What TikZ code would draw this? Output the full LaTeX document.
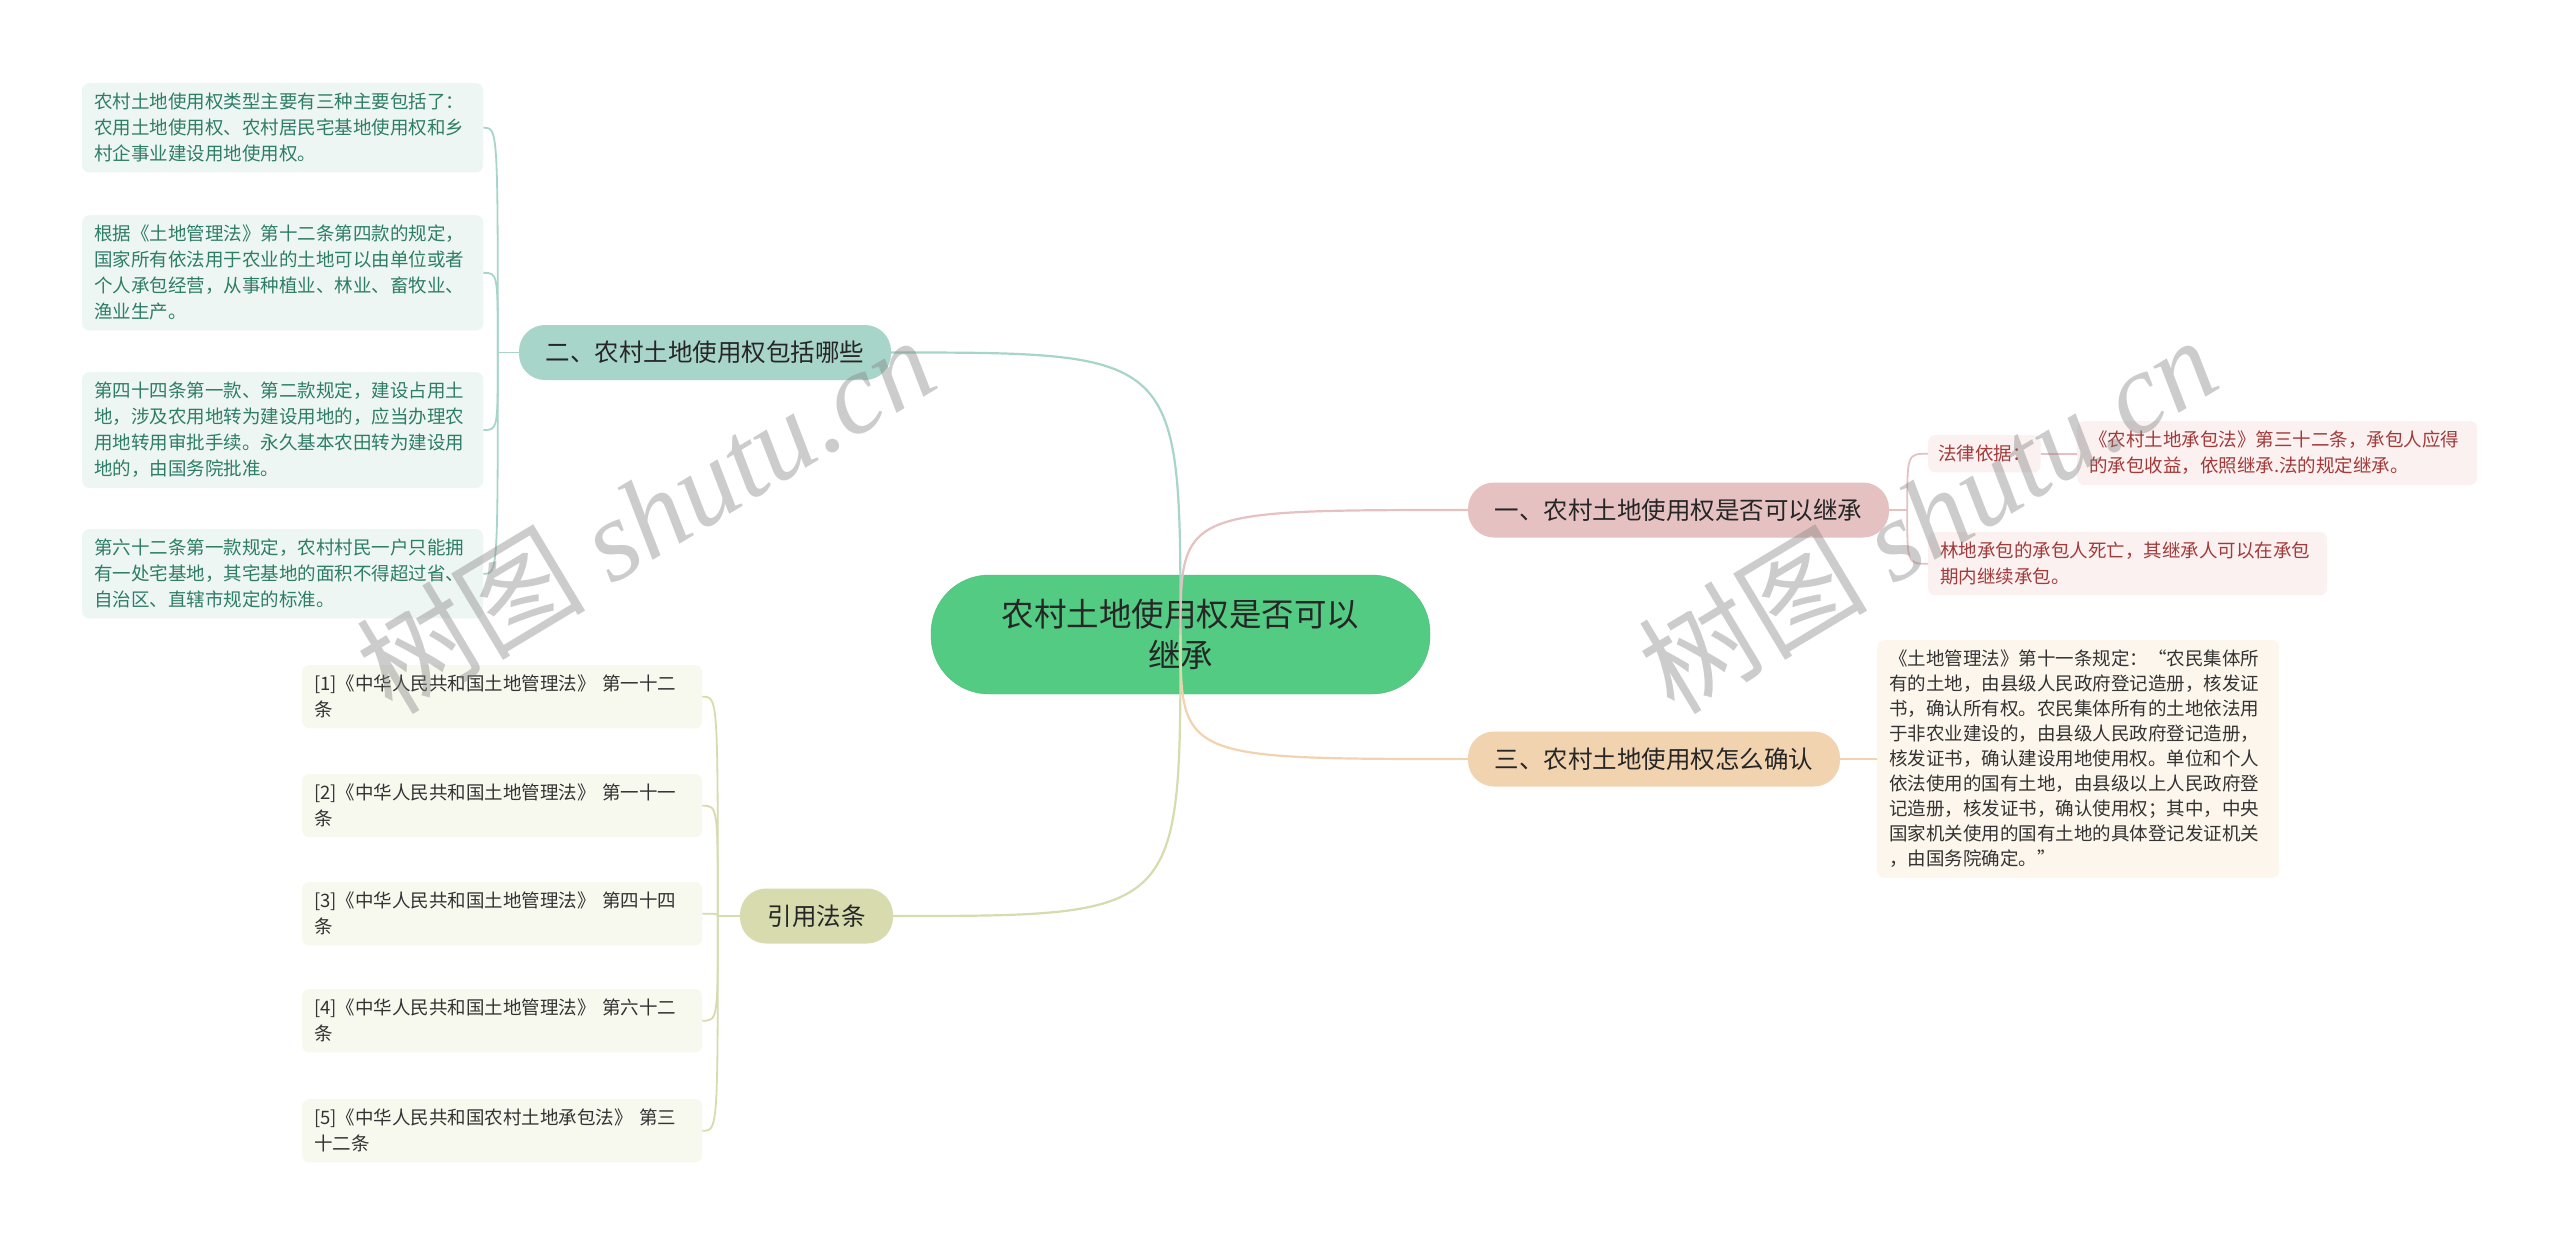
\documentclass[tikz,border=0pt]{standalone}
\usepackage{fontspec}
\setmainfont{Noto Sans CJK SC}
\newfontfamily\wmlatin{Liberation Serif}
\usetikzlibrary{calc}
\definecolor{rootfill}{HTML}{53CB82}
\definecolor{rootline}{HTML}{4DBE79}
\definecolor{tealfill}{HTML}{A8D5C9}
\definecolor{pinkfill}{HTML}{E6C1C1}
\definecolor{tanfill}{HTML}{F2D3AF}
\definecolor{olivefill}{HTML}{D7DBAD}
\definecolor{tealleaf}{HTML}{EEF6F3}
\definecolor{pinkleaf}{HTML}{FBF1F1}
\definecolor{tanleaf}{HTML}{FDF6ED}
\definecolor{oliveleaf}{HTML}{F7F8EE}
\definecolor{tealtext}{HTML}{2E7D66}
\definecolor{pinktext}{HTML}{A33A3A}
\tikzset{
  root/.style={draw=rootline,fill=rootfill,rectangle,rounded corners=58pt,minimum width=499pt,minimum height=119pt,align=center,text=black!85,font=\fontsize{32.5}{41}\selectfont},
  topic/.style={rectangle,rounded corners=26pt,minimum height=55pt,inner xsep=0pt,text=black!85,font=\fontsize{24.5}{30}\selectfont},
  leaf/.style={rectangle,rounded corners=7pt,anchor=north west,align=left,inner xsep=12pt,inner ysep=10pt,font=\fontsize{18.5}{26}\selectfont},
  branch/.style={line width=2.2pt},
  twig/.style={line width=1.8pt},
  wmark/.style={rotate=31,text=gray,opacity=0.4,font=\fontsize{115}{115}\selectfont}
}
\begin{document}
\begin{tikzpicture}[x=1pt,y=-1pt]
  \fill[white] (0,0) rectangle (2560,1251);
  \useasboundingbox (0,0) rectangle (2560,1251);

  \node[root] (root) at (1180.5,634.5) {农村土地使用权是否可以\\继承};

  \node[topic,fill=tealfill,minimum width=372pt] (t2) at (705,352.5) {二、农村土地使用权包括哪些};
  \node[topic,fill=pinkfill,minimum width=421pt] (t1) at (1678.5,510) {一、农村土地使用权是否可以继承};
  \node[topic,fill=tanfill,minimum width=372pt] (t3) at (1654,759) {三、农村土地使用权怎么确认};
  \node[topic,fill=olivefill,minimum width=153pt] (t4) at (816.5,916) {引用法条};

  \node[leaf,fill=tealleaf,text=tealtext,text width=377pt] (l2a) at (82,83) {农村土地使用权类型主要有三种主要包括了：\\农用土地使用权、农村居民宅基地使用权和乡\\村企事业建设用地使用权。};
  \node[leaf,fill=tealleaf,text=tealtext,text width=377pt] (l2b) at (82,215) {根据《土地管理法》第十二条第四款的规定，\\国家所有依法用于农业的土地可以由单位或者\\个人承包经营，从事种植业、林业、畜牧业、\\渔业生产。};
  \node[leaf,fill=tealleaf,text=tealtext,text width=377pt] (l2c) at (82,372) {第四十四条第一款、第二款规定，建设占用土\\地，涉及农用地转为建设用地的，应当办理农\\用地转用审批手续。永久基本农田转为建设用\\地的，由国务院批准。};
  \node[leaf,fill=tealleaf,text=tealtext,text width=377pt] (l2d) at (82,529) {第六十二条第一款规定，农村村民一户只能拥\\有一处宅基地，其宅基地的面积不得超过省、\\自治区、直辖市规定的标准。};

  \node[leaf,fill=oliveleaf,text=black!80,text width=376pt] (r1) at (302,665) {[1]《中华人民共和国土地管理法》 第一十二\\条};
  \node[leaf,fill=oliveleaf,text=black!80,text width=376pt] (r2) at (302,774) {[2]《中华人民共和国土地管理法》 第一十一\\条};
  \node[leaf,fill=oliveleaf,text=black!80,text width=376pt] (r3) at (302,882) {[3]《中华人民共和国土地管理法》 第四十四\\条};
  \node[leaf,fill=oliveleaf,text=black!80,text width=376pt] (r4) at (302,989) {[4]《中华人民共和国土地管理法》 第六十二\\条};
  \node[leaf,fill=oliveleaf,text=black!80,text width=376pt] (r5) at (302,1099) {[5]《中华人民共和国农村土地承包法》 第三\\十二条};

  \node[leaf,fill=pinkleaf,text=pinktext,inner xsep=10pt] (l1a) at (1928,435) {法律依据：};
  \node[leaf,fill=pinkleaf,text=pinktext,text width=376pt] (l1c) at (2077,421) {《农村土地承包法》第三十二条，承包人应得\\的承包收益，依照继承.法的规定继承。};
  \node[leaf,fill=pinkleaf,text=pinktext,text width=375pt] (l1b) at (1928,532) {林地承包的承包人死亡，其继承人可以在承包\\期内继续承包。};

  \node[leaf,fill=tanleaf,text=black!80,text width=378pt,font=\fontsize{18.5}{25}\selectfont] (l3) at (1877,640) {《土地管理法》第十一条规定：“农民集体所\\有的土地，由县级人民政府登记造册，核发证\\书，确认所有权。农民集体所有的土地依法用\\于非农业建设的，由县级人民政府登记造册，\\核发证书，确认建设用地使用权。单位和个人\\依法使用的国有土地，由县级以上人民政府登\\记造册，核发证书，确认使用权；其中，中央\\国家机关使用的国有土地的具体登记发证机关\\，由国务院确定。”};

  \draw[branch,tealfill] (root.center) .. controls (root.center |- t2.east) .. (t2.east);
  \draw[branch,pinkfill] (root.center) .. controls (root.center |- t1.west) .. (t1.west);
  \draw[branch,tanfill] (root.center) .. controls (root.center |- t3.west) .. (t3.west);
  \draw[branch,olivefill] (root.center) .. controls (root.center |- t4.east) .. (t4.east);

  \coordinate (j2) at ($(t2.west)+(-21,0)$);
  \coordinate (j1) at ($(t1.east)+(18,0)$);
  \coordinate (j4) at ($(t4.west)+(-22,0)$);

  \draw[twig,tealfill] (t2.west) -- (j2);
  \draw[twig,tealfill] (j2) .. controls (j2 |- l2a.east) .. (l2a.east);
  \draw[twig,tealfill] (j2) .. controls (j2 |- l2b.east) .. (l2b.east);
  \draw[twig,tealfill] (j2) .. controls (j2 |- l2c.east) .. (l2c.east);
  \draw[twig,tealfill] (j2) .. controls (j2 |- l2d.east) .. (l2d.east);

  \draw[twig,olivefill] (t4.west) -- (j4);
  \draw[twig,olivefill] (j4) .. controls (j4 |- r1.east) .. (r1.east);
  \draw[twig,olivefill] (j4) .. controls (j4 |- r2.east) .. (r2.east);
  \draw[twig,olivefill] (j4) .. controls (j4 |- r3.east) .. (r3.east);
  \draw[twig,olivefill] (j4) .. controls (j4 |- r4.east) .. (r4.east);
  \draw[twig,olivefill] (j4) .. controls (j4 |- r5.east) .. (r5.east);

  \draw[twig,pinkfill] (t1.east) -- (j1);
  \draw[twig,pinkfill] (j1) .. controls (j1 |- l1a.west) .. (l1a.west);
  \draw[twig,pinkfill] (j1) .. controls (j1 |- l1b.west) .. (l1b.west);
  \draw[twig,pinkfill] (l1a.east) -- (l1a.east -| l1c.west);

  \draw[twig,tanfill] (t3.east) -- (l3.west);

  \node[wmark] (wm1) at (645,514) {树图 {\wmlatin\itshape shutu.cn}};
  \node[wmark] (wm2) at (1927,514) {树图 {\wmlatin\itshape shutu.cn}};
\end{tikzpicture}
\end{document}
